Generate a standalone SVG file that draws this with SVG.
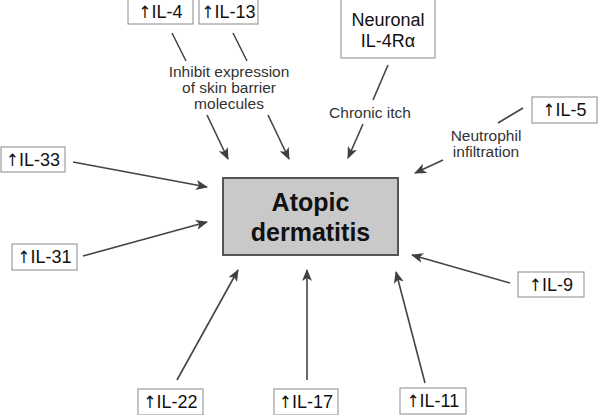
<svg xmlns="http://www.w3.org/2000/svg" width="598" height="415" viewBox="0 0 598 415">
<defs>
<marker id="ah" viewBox="0 0 12 10" refX="11" refY="5" markerWidth="12" markerHeight="10" markerUnits="userSpaceOnUse" orient="auto">
<path d="M0,0 L12,5 L0,10 L3,5 Z" fill="#404040"/>
</marker>
</defs>
<style>
.box{fill:#fff;stroke:#8a8a8a;stroke-width:1}
.lbl{font-family:"Liberation Sans",Arial,sans-serif;font-size:18px;fill:#111;text-anchor:middle}
.up{font-family:"DejaVu Sans Condensed","DejaVu Sans",sans-serif;font-size:17px}
.note{font-family:"Liberation Sans",Arial,sans-serif;font-size:15.5px;fill:#333;text-anchor:middle}
.ln{stroke:#444;stroke-width:1.6;fill:none}
.ar{stroke:#444;stroke-width:1.6;fill:none;marker-end:url(#ah)}
</style>
<rect width="598" height="415" fill="#fff"/>
<g id="connectors">
<line class="ln" x1="172" y1="33" x2="186" y2="61"/>
<line class="ar" x1="207" y1="115" x2="228" y2="159"/>
<line class="ln" x1="233" y1="33" x2="247" y2="61"/>
<line class="ar" x1="268" y1="115" x2="289" y2="159"/>
<line class="ln" x1="388" y1="65" x2="373" y2="100"/>
<line class="ar" x1="363" y1="124" x2="348" y2="158"/>
<line class="ln" x1="523" y1="108" x2="498" y2="123"/>
<line class="ar" x1="443" y1="160" x2="415" y2="173"/>
<line class="ar" x1="73" y1="162" x2="207" y2="187"/>
<line class="ar" x1="83" y1="256" x2="207" y2="222"/>
<line class="ar" x1="510" y1="283" x2="412" y2="255"/>
<line class="ar" x1="177" y1="380" x2="238" y2="270"/>
<line class="ar" x1="307" y1="380" x2="307" y2="270"/>
<line class="ar" x1="425" y1="383" x2="396" y2="272"/>
</g>
<g id="notes">
<text class="note" x="229" y="77">Inhibit expression</text>
<text class="note" x="229" y="93">of skin barrier</text>
<text class="note" x="229" y="109">molecules</text>
<text class="note" x="370" y="118">Chronic itch</text>
<text class="note" x="486" y="141">Neutrophil</text>
<text class="note" x="486" y="157">infiltration</text>
</g>
<g id="center">
<rect x="223" y="178" width="175" height="77" fill="#c9c9c9" stroke="#555" stroke-width="2"/>
<text x="310.5" y="211" font-family="'Liberation Sans',Arial,sans-serif" font-size="25" font-weight="bold" text-anchor="middle" fill="#111">Atopic</text>
<text x="310.5" y="241" font-family="'Liberation Sans',Arial,sans-serif" font-size="25" font-weight="bold" text-anchor="middle" fill="#111">dermatitis</text>
</g>
<g id="il4"><rect class="box" x="128" y="-1" width="65" height="25"/><text class="lbl" x="160.5" y="18"><tspan class="up">↑</tspan>IL-4</text></g>
<g id="il13"><rect class="box" x="199" y="-1" width="59" height="25"/><text class="lbl" x="228.5" y="18"><tspan class="up">↑</tspan>IL-13</text></g>
<g id="il4ra"><rect class="box" x="341" y="-1" width="94" height="59"/><text class="lbl" x="388" y="26">Neuronal</text><text class="lbl" x="388" y="47">IL-4Rα</text></g>
<g id="il5"><rect class="box" x="532" y="97" width="65" height="26"/><text class="lbl" x="564.5" y="116"><tspan class="up">↑</tspan>IL-5</text></g>
<g id="il33"><rect class="box" x="1" y="147" width="64" height="25"/><text class="lbl" x="33" y="166"><tspan class="up">↑</tspan>IL-33</text></g>
<g id="il31"><rect class="box" x="12" y="244" width="65" height="26"/><text class="lbl" x="44.5" y="263"><tspan class="up">↑</tspan>IL-31</text></g>
<g id="il9"><rect class="box" x="518" y="272" width="66" height="25"/><text class="lbl" x="551" y="291"><tspan class="up">↑</tspan>IL-9</text></g>
<g id="il22"><rect class="box" x="138" y="389" width="65" height="26"/><text class="lbl" x="170.5" y="408"><tspan class="up">↑</tspan>IL-22</text></g>
<g id="il17"><rect class="box" x="274" y="389" width="64" height="26"/><text class="lbl" x="306" y="408"><tspan class="up">↑</tspan>IL-17</text></g>
<g id="il11"><rect class="box" x="400" y="388" width="66" height="26"/><text class="lbl" x="433" y="407"><tspan class="up">↑</tspan>IL-11</text></g>
</svg>
